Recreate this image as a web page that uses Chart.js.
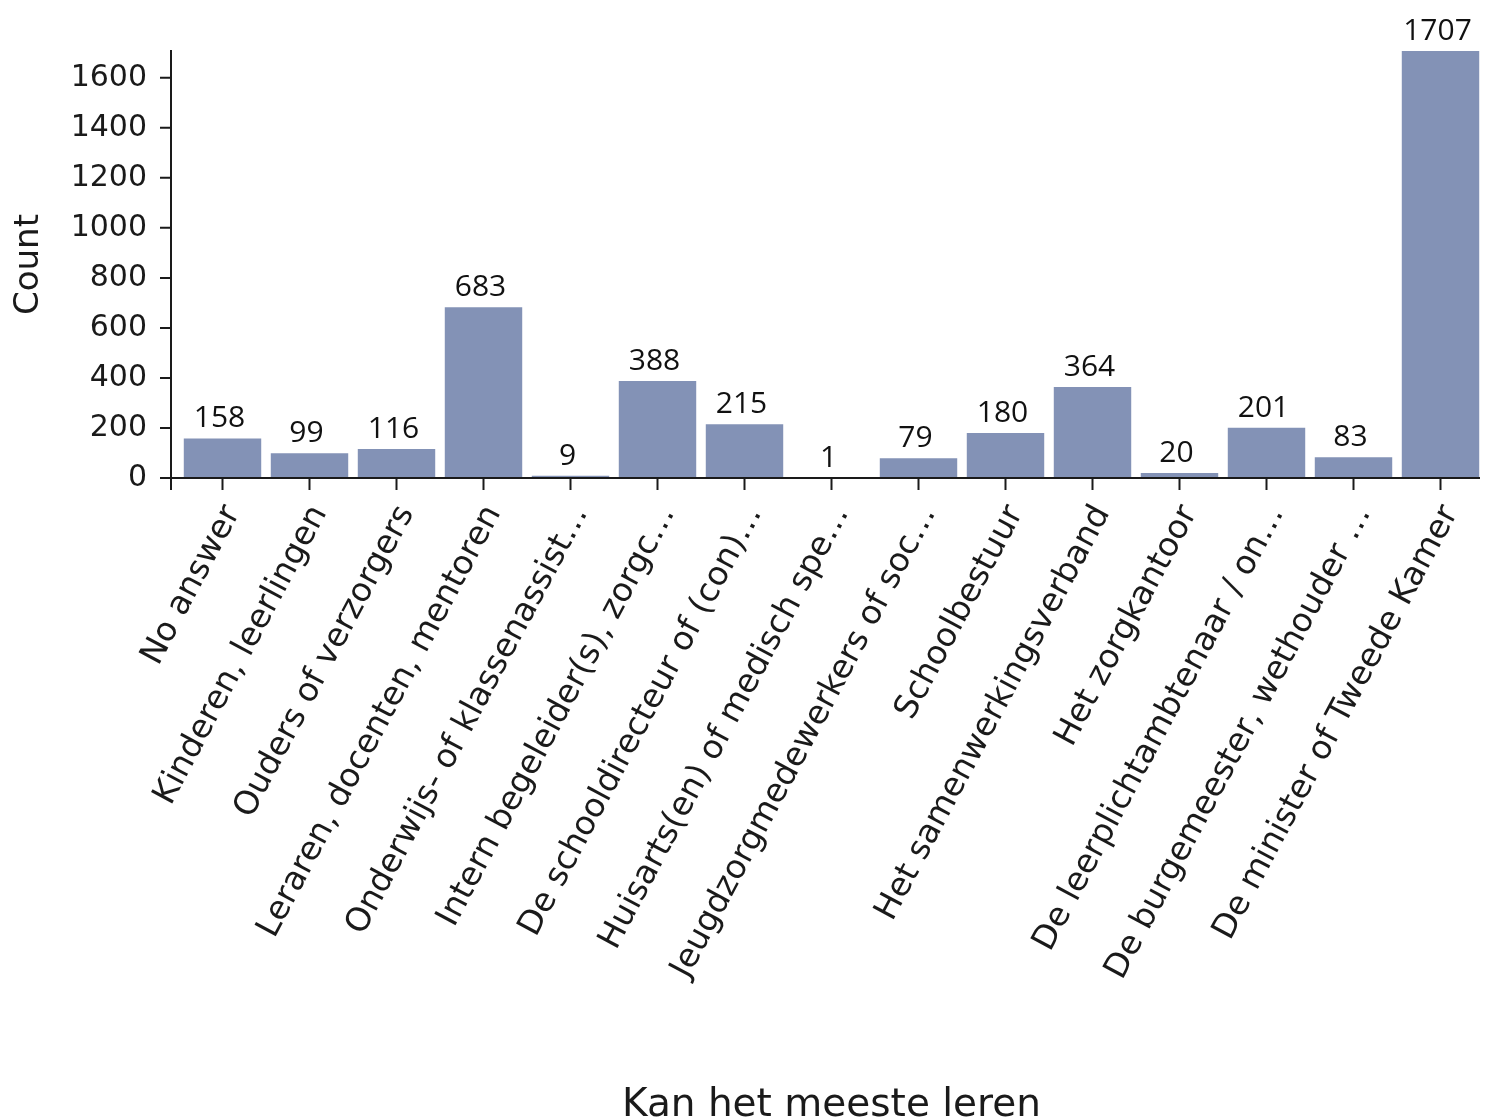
<!DOCTYPE html>
<html>
<head>
<meta charset="utf-8">
<script src="https://cdn.jsdelivr.net/npm/chart.js@4.4.1/dist/chart.umd.min.js"></script>
<style>
  html, body { margin: 0; padding: 0; background: #fff; }
  #wrap { width: 1489px; height: 1120px; }
</style>
</head>
<body>
<div id="wrap"><canvas id="myChart" width="1489" height="1120"></canvas></div>
<script>
// categories (truncated as in the original)
const categories = [
    "No answer",
    "Kinderen, leerlingen",
    "Ouders of verzorgers",
    "Leraren, docenten, mentoren",
    "Onderwijs- of klassenassist…",
    "Intern begeleider(s), zorgc…",
    "De schooldirecteur of (con)…",
    "Huisarts(en) of medisch spe…",
    "Jeugdzorgmedewerkers of soc…",
    "Schoolbestuur",
    "Het samenwerkingsverband",
    "Het zorgkantoor",
    "De leerplichtambtenaar / on…",
    "De burgemeester, wethouder …",
    "De minister of Tweede Kamer"
];
const counts = [158, 99, 116, 683, 9, 388, 215, 1, 79, 180, 364, 20, 201, 83, 1707];
const yTicks = [0, 200, 400, 600, 800, 1000, 1200, 1400, 1600];

const barColor = "#8392b6";
const inkColor = "#1a1a1a";
const axisFont = "'DejaVu Sans', sans-serif";

// axis spines (y spine sits a few px left of the plot, like the original)
const spines = {
    id: 'spines',
    afterDraw(chart) {
        const ctx = chart.ctx;
        const area = chart.chartArea;
        const y = chart.scales.y;
        const x0 = area.left - 8;
        ctx.save();
        ctx.strokeStyle = inkColor;
        ctx.lineWidth = 2;
        ctx.beginPath();
        ctx.moveTo(x0, area.top - 1);
        ctx.lineTo(x0, area.bottom + 12);
        ctx.moveTo(x0 - 1, area.bottom);
        ctx.lineTo(area.right - 4, area.bottom);
        yTicks.forEach(function (v) {
            const py = y.getPixelForValue(v);
            ctx.moveTo(x0 - 11, py);
            ctx.lineTo(x0, py);
        });
        ctx.stroke();
        ctx.restore();
    }
};

// value labels above the bars
const barValues = {
    id: 'barValues',
    afterDatasetsDraw(chart) {
        const ctx = chart.ctx;
        const meta = chart.getDatasetMeta(0);
        ctx.save();
        ctx.fillStyle = "#111";
        ctx.font = "30px 'Open Sans', sans-serif";
        ctx.textAlign = "center";
        ctx.textBaseline = "alphabetic";
        meta.data.forEach(function (bar, i) {
            ctx.fillText(String(counts[i]), bar.x - 3, bar.y - 11);
        });
        ctx.restore();
    }
};

new Chart("myChart", {
    type: "bar",
    data: {
        labels: categories,
        datasets: [{
            data: counts,
            backgroundColor: barColor,
            borderWidth: 0,
            categoryPercentage: 1.0,
            barPercentage: 0.89
        }]
    },
    options: {
        responsive: false,
        animation: false,
        layout: { padding: { top: 51, right: 5, left: 0, bottom: 0 } },
        plugins: {
            legend: { display: false },
            tooltip: { enabled: false }
        },
        scales: {
            x: {
                offset: true,
                border: { display: false },
                grid: {
                    display: true,
                    drawOnChartArea: false,
                    offset: false,
                    tickLength: 12,
                    tickWidth: 2,
                    tickColor: inkColor
                },
                ticks: {
                    minRotation: 62,
                    maxRotation: 62,
                    autoSkip: false,
                    padding: 9,
                    labelOffset: 10,
                    color: inkColor,
                    font: { family: axisFont, size: 33 }
                },
                title: {
                    display: true,
                    text: "Kan het meeste leren",
                    color: inkColor,
                    font: { family: axisFont, size: 39 },
                    padding: { top: 0, bottom: -9 }
                },
                afterFit(scale) { scale.height = 642; }
            },
            y: {
                min: 0,
                max: 1707,
                border: { display: false },
                grid: { display: false, drawTicks: false },
                ticks: {
                    padding: 32,
                    color: inkColor,
                    font: { family: axisFont, size: 30 },
                    callback: function (v) { return String(v); }
                },
                afterBuildTicks(scale) {
                    scale.ticks = yTicks.map(function (v) { return { value: v }; });
                },
                title: {
                    display: true,
                    text: "Count",
                    color: inkColor,
                    font: { family: axisFont, size: 34 },
                    padding: { top: 9, bottom: 0 }
                },
                afterFit(scale) { scale.width = 179; }
            }
        }
    },
    plugins: [spines, barValues]
});
</script>
</body>
</html>
